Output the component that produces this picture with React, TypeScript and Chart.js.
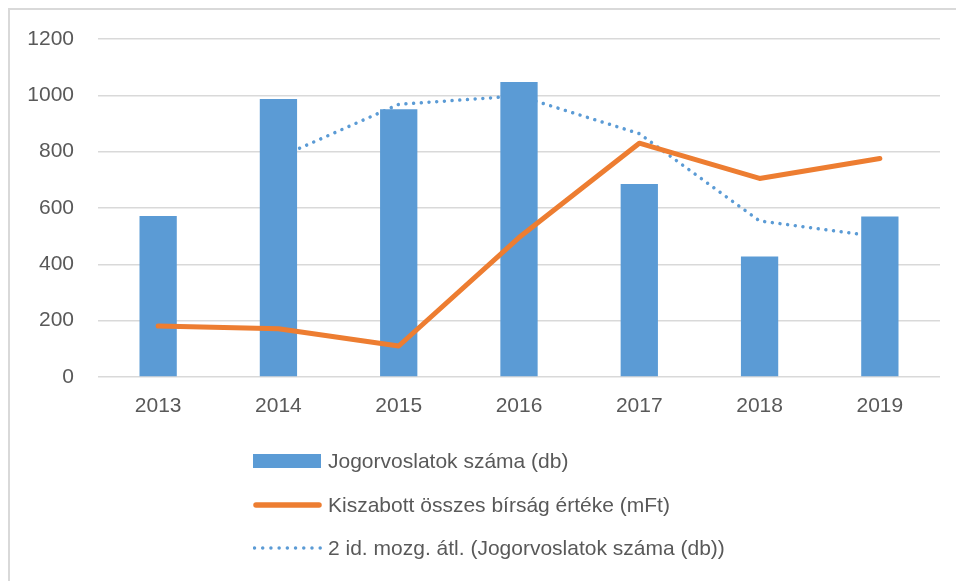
import React, { useEffect, useRef } from "react";
import { Chart, registerables } from "chart.js";

Chart.register(...registerables);

const categories = ["2013", "2014", "2015", "2016", "2017", "2018", "2019"];
const jogorvoslatok = [572, 987, 951, 1047, 685, 428, 570];
const birsag = [181, 171, 110, 495, 830, 705, 776];
const mozgAtl = [null, 779, 968, 998, 864, 554, 498];
const yTicks = [0, 200, 400, 600, 800, 1000, 1200];

const seriesNames = [
  "Jogorvoslatok száma (db)",
  "Kiszabott összes bírság értéke (mFt)",
  "2 id. mozg. átl. (Jogorvoslatok száma (db))",
];

const BLUE = "#5B9BD5";
const ORANGE = "#ED7D31";
const TEXT = "#595959";
const GRID = "#d9d9d9";
const FONT = "'Liberation Sans', Arial, sans-serif";

export default function App() {
  const canvasRef = useRef<HTMLCanvasElement | null>(null);

  useEffect(() => {
    const canvas = canvasRef.current;
    if (!canvas) return;
    const chart = new Chart(canvas, {
      type: "bar",
      data: {
        labels: categories,
        datasets: [
          {
            type: "line",
            label: seriesNames[1],
            data: birsag,
            borderColor: ORANGE,
            backgroundColor: ORANGE,
            borderWidth: 5,
            borderCapStyle: "round",
            borderJoinStyle: "round",
            pointRadius: 0,
            fill: false,
            tension: 0,
            order: 0,
          } as any,
          {
            type: "bar",
            label: seriesNames[0],
            data: jogorvoslatok,
            backgroundColor: BLUE,
            borderWidth: 0,
            barPercentage: 1,
            categoryPercentage: 0.31,
            order: 1,
          } as any,
          {
            type: "line",
            label: seriesNames[2],
            data: mozgAtl,
            borderColor: BLUE,
            backgroundColor: BLUE,
            borderWidth: 3.5,
            borderDash: [0.01, 7.7],
            borderCapStyle: "round",
            pointRadius: 0,
            fill: false,
            tension: 0,
            spanGaps: false,
            order: 2,
          } as any,
        ],
      },
      options: {
        responsive: false,
        animation: false,
        devicePixelRatio: 1,
        layout: { padding: { left: 20, right: 16, top: 39, bottom: 164 } },
        plugins: { legend: { display: false }, tooltip: { enabled: false } },
        scales: {
          x: {
            grid: { display: false, drawTicks: false },
            border: { display: false },
            ticks: {
              color: TEXT,
              font: { family: FONT, size: 21 },
              padding: 17,
              maxRotation: 0,
            },
            afterFit: (s: any) => {
              s.height = 40;
            },
          },
          y: {
            min: 0,
            max: 1200,
            afterBuildTicks: (s: any) => {
              s.ticks = yTicks.map((v) => ({ value: v }));
            },
            grid: { color: GRID, lineWidth: 1.6, drawTicks: false },
            border: { display: false },
            ticks: {
              color: TEXT,
              font: { family: FONT, size: 21 },
              padding: 24,
              callback: (v: any) => String(v),
            },
            afterFit: (s: any) => {
              s.width = 78;
            },
          },
        },
      },
    });
    return () => chart.destroy();
  }, []);

  const rowStyle = (center: number): React.CSSProperties => ({
    position: "fixed",
    left: 253,
    top: center - 15,
    height: 30,
    display: "flex",
    alignItems: "center",
    fontFamily: FONT,
    fontSize: 21,
    color: TEXT,
    whiteSpace: "nowrap",
  });

  return (
    <div>
      <div
        style={{
          position: "fixed",
          left: 8,
          top: 8,
          width: 1200,
          height: 900,
          borderTop: `2px solid ${GRID}`,
          borderLeft: `2px solid ${GRID}`,
          background: "#fff",
        }}
      />
      <canvas
        ref={canvasRef}
        width={956}
        height={581}
        style={{ position: "fixed", left: 0, top: 0, width: 956, height: 581 }}
      />
      <div style={rowStyle(461)}>
        <svg width={69} height={30} style={{ marginRight: 6 }}>
          <rect x={0} y={8} width={68} height={14} fill={BLUE} />
        </svg>
        <span>{seriesNames[0]}</span>
      </div>
      <div style={rowStyle(505)}>
        <svg width={69} height={30} style={{ marginRight: 6 }}>
          <line x1={3} y1={15} x2={66} y2={15} stroke={ORANGE} strokeWidth={5.5} strokeLinecap="round" />
        </svg>
        <span>{seriesNames[1]}</span>
      </div>
      <div style={rowStyle(548)}>
        <svg width={69} height={30} style={{ marginRight: 6 }}>
          <line
            x1={1.5}
            y1={15}
            x2={68}
            y2={15}
            stroke={BLUE}
            strokeWidth={3.5}
            strokeLinecap="round"
            strokeDasharray="0.01 8.2"
          />
        </svg>
        <span>{seriesNames[2]}</span>
      </div>
    </div>
  );
}
